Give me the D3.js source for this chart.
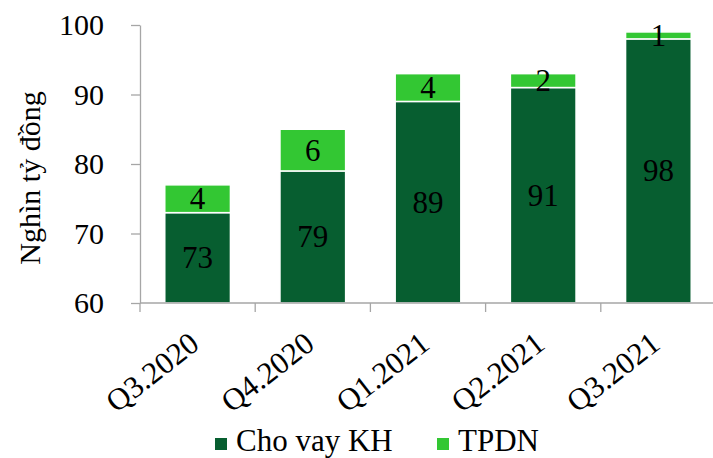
<!DOCTYPE html>
<html>
<head>
<meta charset="utf-8">
<script src="https://cdn.jsdelivr.net/npm/d3@7"></script>
<style>
  html, body { margin: 0; padding: 0; background: #fff; }
  svg { display: block; font-family: "Liberation Serif", "Times New Roman", serif; }
</style>
</head>
<body>
<svg id="chart" width="713" height="458"></svg>
<script>
// Quarterly balances, thousand billion VND
const quarters = ["Q3.2020", "Q4.2020", "Q1.2021", "Q2.2021", "Q3.2021"];
const loans = [73, 79, 89, 91, 98];      // Cho vay KH
const bonds = [4, 6, 4, 2, 1];           // TPDN
const yTicks = [60, 70, 80, 90, 100];
const seriesNames = ["Cho vay KH", "TPDN"];
const seriesColors = ["#075e30", "#33c733"];

const FONT = "Liberation Serif, Times New Roman, serif";
const svg = d3.select("#chart");
const margin = { left: 140, right: -3, top: 25, bottom: 155 };
const W = 713, H = 458;

const x = d3.scaleBand()
  .domain(quarters)
  .range([margin.left, W - margin.right])
  .paddingInner(0.43)
  .paddingOuter(0.215);

const y = d3.scaleLinear()
  .domain([60, 100])
  .range([H - margin.bottom, margin.top]);

const rows = quarters.map((q, i) => ({ q, loans: loans[i], bonds: bonds[i] }));
const stack = d3.stack().keys(["loans", "bonds"]);
const layers = stack(rows);
// the stacked bars start at the axis floor
layers[0].forEach(d => d[0] = 60);

// bars
svg.append("g").selectAll("g")
  .data(layers)
  .join("g")
  .attr("fill", (d, i) => seriesColors[i])
  .selectAll("rect")
  .data(d => d)
  .join("rect")
  .attr("x", d => x(d.data.q))
  .attr("width", x.bandwidth())
  .attr("y", d => y(d[1]))
  .attr("height", d => y(d[0]) - y(d[1]))
  .attr("stroke", "#fff")
  .attr("stroke-width", 1.5);

// value labels
svg.append("g").selectAll("g")
  .data(layers)
  .join("g")
  .selectAll("text")
  .data(d => d.map(s => ({ s, key: d.key })))
  .join("text")
  .attr("x", d => x(d.s.data.q) + x.bandwidth() / 2)
  .attr("y", d => (y(d.s[0]) + y(d.s[1])) / 2)
  .attr("text-anchor", "middle")
  .attr("dominant-baseline", "central")
  .attr("font-family", FONT)
  .attr("font-size", 31)
  .attr("fill", "#000")
  .text(d => d3.format(".0f")(d.s.data[d.key]));

// y axis
const yAxis = svg.append("g")
  .attr("transform", `translate(${margin.left},0)`)
  .call(d3.axisLeft(y).tickValues(yTicks).tickSize(9).tickSizeOuter(0).tickPadding(27));
yAxis.select(".domain").attr("stroke", "#a6a6a6").attr("stroke-width", 1.3);
yAxis.selectAll(".tick line").attr("stroke", "#a6a6a6").attr("stroke-width", 1.3);
yAxis.selectAll(".tick text")
  .attr("font-size", 30)
  .attr("font-family", FONT)
  .attr("fill", "#000");

// x axis
const xBase = y(60);
const xAxis = svg.append("g");
xAxis.append("line")
  .attr("x1", margin.left).attr("x2", W)
  .attr("y1", xBase).attr("y2", xBase)
  .attr("stroke", "#a6a6a6").attr("stroke-width", 1.3);
const bounds = quarters.map(q => x(q) - x.step() * x.paddingInner() / 2);
xAxis.selectAll("line.tk")
  .data(bounds)
  .join("line")
  .attr("class", "tk")
  .attr("x1", d => d).attr("x2", d => d)
  .attr("y1", xBase).attr("y2", xBase + 9)
  .attr("stroke", "#a6a6a6").attr("stroke-width", 1.3);
xAxis.selectAll("text")
  .data(quarters)
  .join("text")
  .attr("transform", q => `translate(${x(q) + x.bandwidth() / 2 - 3},${xBase + 36}) rotate(-38)`)
  .attr("text-anchor", "end")
  .attr("dominant-baseline", "central")
  .attr("font-family", FONT)
  .attr("font-size", 31)
  .attr("fill", "#000")
  .text(q => q);

// axis title
svg.append("text")
  .attr("transform", "translate(29,178) rotate(-90)")
  .attr("text-anchor", "middle")
  .attr("dominant-baseline", "central")
  .attr("font-family", FONT)
  .attr("font-size", 30)
  .attr("fill", "#000")
  .text("Nghìn tỷ đồng");

// legend
const legend = svg.append("g").attr("transform", "translate(215,444)");
const legendX = [0, 222];
seriesNames.forEach((name, i) => {
  const g = legend.append("g").attr("transform", `translate(${legendX[i]},0)`);
  g.append("rect").attr("x", 0).attr("y", -6).attr("width", 12).attr("height", 12)
    .attr("fill", seriesColors[i]);
  g.append("text").attr("x", 21).attr("y", -4)
    .attr("dominant-baseline", "central")
    .attr("font-family", FONT)
    .attr("font-size", 31)
    .attr("fill", "#000")
    .text(name);
});
</script>
</body>
</html>
